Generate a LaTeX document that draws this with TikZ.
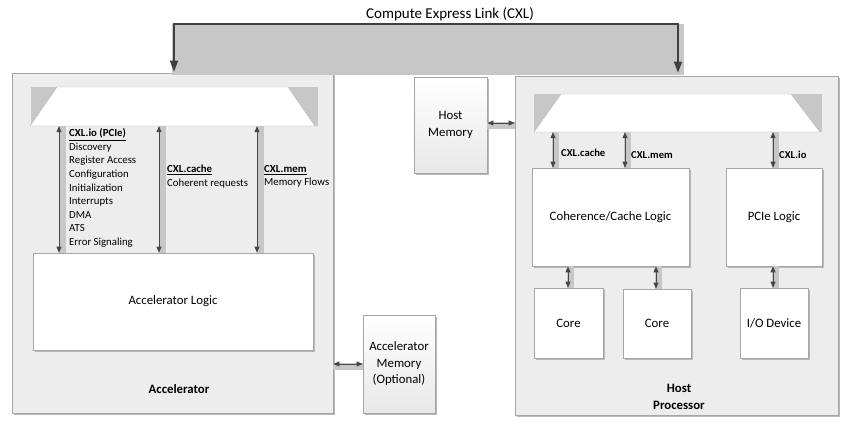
\documentclass[tikz,border=0pt]{standalone}
\usepackage{fontspec}
\setmainfont{Carlito}
\usetikzlibrary{arrows.meta}
\begin{document}
\begin{tikzpicture}[x=1pt,y=-1pt,
 shadowed/.style={preaction={fill=black!28, transform canvas={shift={(2pt,-2pt)}}}},
 outerbox/.style={shadowed, draw=black!35, fill=black!7, line width=0.6pt, inner sep=0pt},
 innerbox/.style={shadowed, draw=black!35, fill=white, line width=0.6pt, inner sep=0pt, font=\fontsize{12.8}{15}\selectfont, align=center},
 membox/.style={shadowed, draw=black!35, top color=white, bottom color=black!9, line width=0.6pt, inner sep=0pt, font=\fontsize{12.8}{16.5}\selectfont, align=center},
 trapband/.style={fill=black!22, inner sep=0pt},
 trapface/.style={fill=white, draw=black!30, line width=0.4pt},
 band/.style={line width=7pt, draw=black!22},
 darr/.style={draw=black!72, line width=0.8pt, {Triangle[length=6pt,width=5pt]}-{Triangle[length=6pt,width=5pt]}},
 busline/.style={draw=black!75, line width=1.6pt, {Triangle[length=11pt,width=8pt]}-{Triangle[length=11pt,width=8pt]}},
 list/.style={font=\fontsize{10.8}{13.6}\selectfont, align=left, inner sep=0pt},
 lbl/.style={font=\bfseries\fontsize{10.6}{12}\selectfont, inner sep=0pt},
 title/.style={font=\bfseries\fontsize{12.8}{17}\selectfont, align=center, inner sep=0pt}
]
\useasboundingbox (0,0) rectangle (852,430);

% outer boxes
\node[outerbox, minimum width=321pt, minimum height=340pt] (acc) at (172.5,243) {};
\node[outerbox, minimum width=323pt, minimum height=339pt] (host) at (676.5,245.5) {};

% CXL bus
\node[fill=black!22, inner sep=0pt, minimum width=512pt, minimum height=51pt] (bus) at (428,49.5) {};
\node[font=\fontsize{15}{18}\selectfont] (bustitle) at (450,14) {Compute Express Link (CXL)};
\coordinate (busL) at (174,24);
\coordinate (busR) at (678,24);
\draw[busline, shorten <=1pt, shorten >=3pt] (acc.north -| busL) -- (busL) -- (busR) -- (host.north -| busR);

% memories
\node[membox, minimum width=73pt, minimum height=96pt] (hmem) at (450.5,125) {Host\\Memory};
\node[membox, minimum width=72pt, minimum height=98pt] (amem) at (399,364) {Accelerator\\Memory\\(Optional)};

% accelerator internals
\node[trapband, minimum width=287pt, minimum height=39pt] (ltrap) at (174.5,106.5) {};
\filldraw[trapface] (57,87) -- (288,87) -- (315,126) -- (30,126) -- cycle;
\node[innerbox, minimum width=280pt, minimum height=97pt] (alogic) at (173,301.5) {Accelerator Logic};
\node[title] (acclbl) at (179,389) {Accelerator};

\coordinate (a1) at (59,0);
\coordinate (a2) at (159,0);
\coordinate (a3) at (257,0);
\foreach \c in {a1,a2,a3}{
  \draw[band, transform canvas={xshift=3pt}] (ltrap.south -| \c) -- (alogic.north -| \c);
  \draw[darr] (ltrap.south -| \c) -- (alogic.north -| \c);
}
\node[list, anchor=north west] (iolist) at (69,128.5) {\textbf{\underline{CXL.io (PCIe)}}\\Discovery\\Register Access\\Configuration\\Initialization\\Interrupts\\DMA\\ATS\\Error Signaling};
\node[list, anchor=north west] (cachelist) at (167,165) {\textbf{\underline{CXL.cache}}\\Coherent requests};
\node[list, anchor=north west] (memlist) at (264,165) {\textbf{\underline{CXL.mem}}\\Memory Flows};

% host internals
\node[trapband, minimum width=288pt, minimum height=38pt] (rtrap) at (678,113) {};
\filldraw[trapface] (561,94) -- (791,94) -- (820,132) -- (534,132) -- cycle;
\node[innerbox, minimum width=157pt, minimum height=98pt] (coh) at (610.5,217) {Coherence/Cache Logic};
\node[innerbox, minimum width=96pt, minimum height=98pt] (pcie) at (774,217) {PCIe Logic};
\node[innerbox, minimum width=69pt, minimum height=70pt] (core1) at (568.5,323) {Core};
\node[innerbox, minimum width=68pt, minimum height=69pt] (core2) at (657,323.5) {Core};
\node[innerbox, minimum width=68pt, minimum height=70pt] (iodev) at (774,323) {I/O Device};
\node[title] (hostlbl) at (679,396.5) {Host\\Processor};

\coordinate (h1) at (553,0);
\coordinate (h2) at (625,0);
\coordinate (h3) at (773,0);
\foreach \c in {h1,h2}{
  \draw[band, transform canvas={xshift=2.5pt}] (rtrap.south -| \c) -- (coh.north -| \c);
  \draw[darr] (rtrap.south -| \c) -- (coh.north -| \c);
}
\draw[band, transform canvas={xshift=2.5pt}] (rtrap.south -| h3) -- (pcie.north -| h3);
\draw[darr] (rtrap.south -| h3) -- (pcie.north -| h3);
\node[lbl, anchor=west] (l1) at (561,153) {CXL.cache};
\node[lbl, anchor=west] (l2) at (631,155) {CXL.mem};
\node[lbl, anchor=west] (l3) at (779,155) {CXL.io};

\coordinate (k1) at (568,0);
\coordinate (k2) at (656,0);
\draw[band, transform canvas={xshift=2.5pt}] (coh.south -| k1) -- (core1.north -| k1);
\draw[darr] (coh.south -| k1) -- (core1.north -| k1);
\draw[band, transform canvas={xshift=2.5pt}] (coh.south -| k2) -- (core2.north -| k2);
\draw[darr] (coh.south -| k2) -- (core2.north -| k2);
\draw[band, transform canvas={xshift=2.5pt}] (pcie.south -| h3) -- (iodev.north -| h3);
\draw[darr] (pcie.south -| h3) -- (iodev.north -| h3);

% horizontal links
\coordinate (m1) at (0,123);
\coordinate (m2) at (0,364);
\draw[band, transform canvas={yshift=-2.5pt}] (hmem.east |- m1) -- (host.west |- m1);
\draw[darr] (hmem.east |- m1) -- (host.west |- m1);
\draw[band, transform canvas={yshift=-2.5pt}] (acc.east |- m2) -- (amem.west |- m2);
\draw[darr] (acc.east |- m2) -- (amem.west |- m2);
\end{tikzpicture}
\end{document}
